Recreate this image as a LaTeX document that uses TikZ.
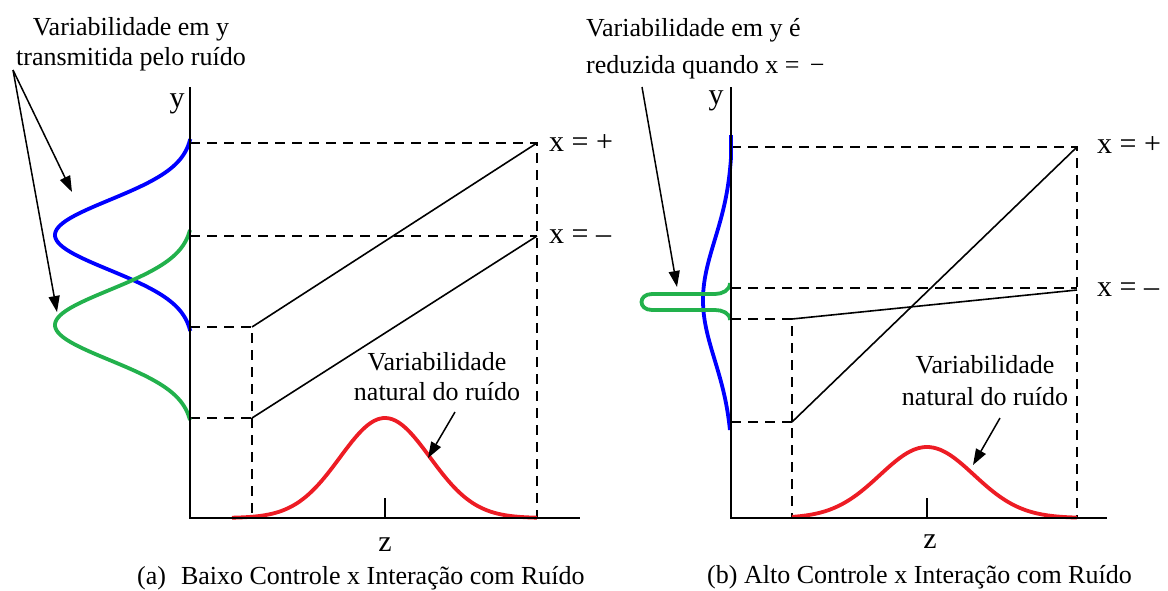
\documentclass[tikz,border=0pt]{standalone}
\usepackage{fontspec}
\setmainfont{Liberation Serif}
\usetikzlibrary{arrows.meta}
\definecolor{cblue}{RGB}{0,0,255}
\definecolor{cgreen}{RGB}{34,177,76}
\definecolor{cred}{RGB}{237,28,36}
\begin{document}
\begin{tikzpicture}[x=1pt,y=-1pt,
  font=\fontsize{26}{30}\selectfont,
  declare function={gss(\t,\c,\s)=exp(-0.5*((\t-\c)/\s)^2);},
  axisline/.style={line width=2pt},
  dashline/.style={line width=2pt,dash pattern=on 10pt off 7pt},
  solidline/.style={line width=1.6pt},
  curve/.style={line width=3.8pt},
  pointer/.style={line width=1.5pt,-{Triangle[length=16pt,width=11pt]}},
  lbl/.style={inner sep=0pt},
  biglbl/.style={inner sep=0pt,font=\fontsize{30}{34}\selectfont}]
\useasboundingbox (0,0) rectangle (1168,590);

% ---------------- left panel ----------------
\coordinate (LO) at (190,518);
\coordinate (LT) at (190,87);
\coordinate (LX) at (580,518);
\coordinate (LA1) at (190,143);
\coordinate (LA2) at (190,236);
\coordinate (LA3) at (190,327);
\coordinate (LA4) at (190,418);
\coordinate (LP1) at (537,143);
\coordinate (LP2) at (537,236);
\coordinate (LP3) at (252,327);
\coordinate (LP4) at (252,418);
\coordinate (LB1) at (537,518);
\coordinate (LB2) at (252,518);
\coordinate (LTk) at (385,498);
\coordinate (LTb) at (385,518);

\draw[dashline] (LA1) -- (LP1) -- (LB1);
\draw[dashline] (LA2) -- (LP2);
\draw[dashline] (LA3) -- (LP3) -- (LB2);
\draw[dashline] (LA4) -- (LP4);
\draw[solidline] (LP3) -- (LP1);
\draw[solidline] (LP4) -- (LP2);

\draw[curve,cblue] plot[domain=139:331,samples=90,variable=\t]
  ({190-135*(gss(\t,235,35)-0.025)/0.975},\t);
\draw[curve,cgreen] plot[domain=230:420,samples=90,variable=\t]
  ({190-135*(gss(\t,325,35)-0.025)/0.975},\t);
\draw[curve,cred] plot[domain=232:537,samples=100,variable=\x]
  (\x,{518-100*gss(\x,385,45)});

\draw[axisline] (LT) -- (LO) -- (LX);
\draw[axisline] (LTk) -- (LTb);

\node[biglbl] (ly) at (177,104) {y};
\node[biglbl] (lz) at (385,545) {z};
\node[biglbl,anchor=west] (lxp) at (549,143) {x = +};
\node[biglbl,anchor=west] (lxm) at (549,237) {x = –};
\node[lbl,align=center] (ltext) at (131,44) {Variabilidade em y\\transmitida pelo ruído};
\node[lbl,align=center] (lnat) at (437,377) {Variabilidade\\natural do ruído};
\node[lbl,anchor=west] (lcap) at (137,578) {(a)\hspace{15pt}Baixo Controle x Interação com Ruído};

\coordinate (LS) at (13,70);
\coordinate (LH1) at (72,192);
\coordinate (LH2) at (57,312);
\draw[pointer] (LS) -- (LH1);
\draw[pointer] (LS) -- (LH2);
\coordinate (LNs) at (455,412);
\coordinate (LNh) at (428,458);
\draw[pointer] (LNs) -- (LNh);

% ---------------- right panel ----------------
\coordinate (RO) at (731,518);
\coordinate (RT) at (731,87);
\coordinate (RX) at (1107,518);
\coordinate (RA1) at (731,147);
\coordinate (RA2) at (731,288);
\coordinate (RA3) at (731,319);
\coordinate (RA4) at (731,422);
\coordinate (RP1) at (1077,147);
\coordinate (RP2) at (1077,288);
\coordinate (RP2s) at (1077,290);
\coordinate (RP3) at (792,319);
\coordinate (RP4) at (792,422);
\coordinate (RB1) at (1077,518);
\coordinate (RB2) at (792,518);
\coordinate (RTk) at (927,498);
\coordinate (RTb) at (927,518);

\draw[dashline] (RA1) -- (RP1) -- (RB1);
\draw[dashline] (RA2) -- (RP2);
\draw[dashline] (RA3) -- (RP3) -- (RB2);
\draw[dashline] (RA4) -- (RP4);
\draw[solidline] (RP4) -- (RP1);
\draw[solidline] (RP3) -- (RP2s);

\draw[curve,cblue] plot[domain=135:430,samples=100,variable=\t]
  ({731-28*max(gss(\t,300,60)-0.06,0)/0.94},\t);
\draw[curve,cgreen] (730,283) to[out=-90,in=0] (715,294) -- (652,294)
  .. controls (638,294) and (638,310) .. (652,310) -- (715,310)
  to[out=0,in=90] (730,320);
\draw[curve,cred] plot[domain=792:1077,samples=100,variable=\x]
  (\x,{518-71*gss(\x,927,47)});

\draw[axisline] (RT) -- (RO) -- (RX);
\draw[axisline] (RTk) -- (RTb);

\node[biglbl] (ry) at (716,101) {y};
\node[biglbl] (rz) at (930,542) {z};
\node[biglbl,anchor=west] (rxp) at (1097,145) {x = +};
\node[biglbl,anchor=west] (rxm) at (1097,290) {x = –};
\node[lbl,align=left,anchor=west] (rtext) at (586,49) {Variabilidade em y é\\[7pt]reduzida quando x = \hspace{4pt}−};
\node[lbl,align=center] (rnat) at (985,381) {Variabilidade\\[2pt]natural do ruído};
\node[lbl,anchor=west] (rcap) at (707,577) {(b) Alto Controle x Interação com Ruído};

\coordinate (RS) at (642,87);
\coordinate (RH) at (677,287);
\draw[pointer] (RS) -- (RH);
\coordinate (RNs) at (1000,418);
\coordinate (RNh) at (973,465);
\draw[pointer] (RNs) -- (RNh);
\end{tikzpicture}
\end{document}
